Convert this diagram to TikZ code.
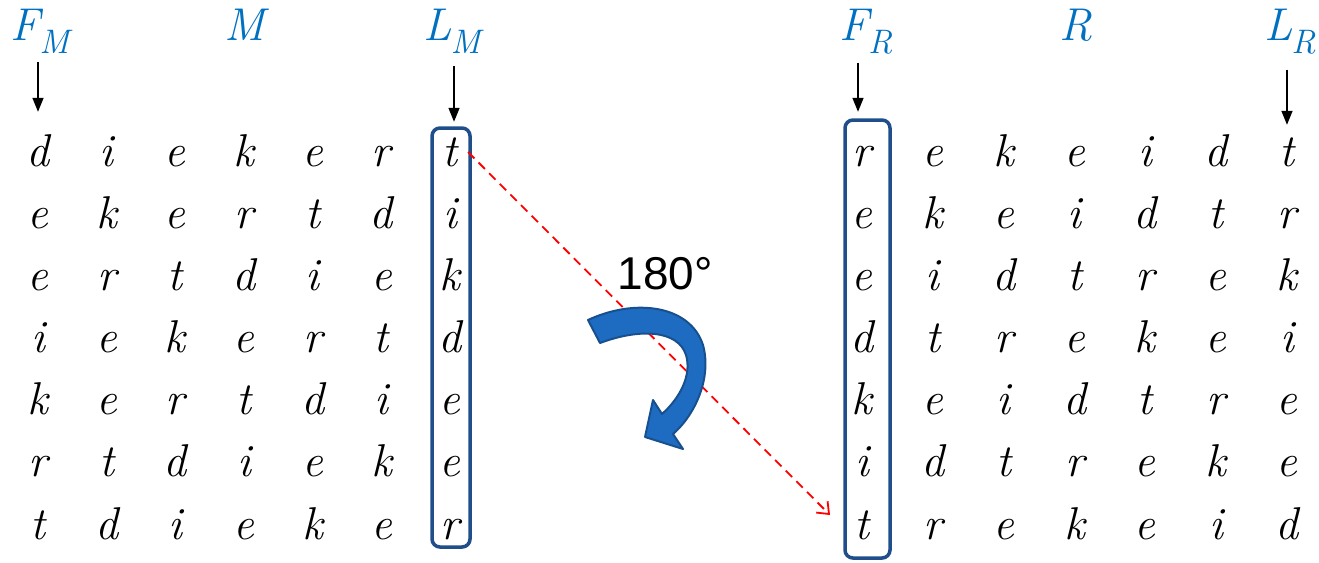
\documentclass[tikz,border=0pt]{standalone}
\usepackage{fontspec}
\newfontfamily\arialf{Liberation Sans}
\usetikzlibrary{arrows.meta,calc}
\definecolor{hdr}{HTML}{0070C0}
\definecolor{boxc}{HTML}{1F4E8A}
\definecolor{arrf}{HTML}{1D6CC2}
\definecolor{arre}{HTML}{18508F}
\newcommand{\subtxt}[2]{#1\kern-1pt\raisebox{-0.3em}{\fontsize{34}{38}\selectfont #2}}
\begin{document}
\begin{tikzpicture}[x=1pt,y=-1pt,
 cell/.style={inner sep=0pt, text height=30pt, text depth=8pt, font=\fontsize{46}{52}\selectfont\itshape},
 hdrtext/.style={text=hdr, inner sep=0pt, anchor=base, font=\fontsize{46}{52}\selectfont\itshape},
 harrow/.style={-{Triangle[width=11pt,length=14pt]}, line width=1.5pt},
 colbox/.style={draw=boxc, line width=3.5pt, rounded corners=8pt},
 redarrow/.style={draw=red, dash pattern=on 9pt off 6pt, line width=1.8pt, -{Straight Barb[length=10pt,width=16pt]}},
 turnarrow/.style={fill=arrf, draw=arre, line width=2pt, line join=round},
]
\useasboundingbox (0,0) rectangle (1319,562);
% left matrix
\foreach \row [count=\r] in {{d,i,e,k,e,r,t},{e,k,e,r,t,d,i},{e,r,t,d,i,e,k},{i,e,k,e,r,t,d},{k,e,r,t,d,i,e},{r,t,d,i,e,k,e},{t,d,i,e,k,e,r}}{
  \foreach \ch [count=\c] in \row {
    \node[cell] (l\r\c) at ({38+68.67*(\c-1)}, {155+62.17*(\r-1)}) {\ch};
  }
}
% right matrix
\foreach \row [count=\r] in {{r,e,k,e,i,d,t},{e,k,e,i,d,t,r},{e,i,d,t,r,e,k},{d,t,r,e,k,e,i},{k,e,i,d,t,r,e},{i,d,t,r,e,k,e},{t,r,e,k,e,i,d}}{
  \foreach \ch [count=\c] in \row {
    \node[cell] (r\r\c) at ({862+70.83*(\c-1)}, {155+62.17*(\r-1)}) {\ch};
  }
}
% headers
\node[hdrtext] (FM) at (40,40) {\subtxt{F}{M}};
\node[hdrtext] (M) at (245,40) {M};
\node[hdrtext] (LM) at (452,40) {\subtxt{L}{M}};
\node[hdrtext] (FR) at (866,40) {\subtxt{F}{R}};
\node[hdrtext] (R) at (1076,40) {R};
\node[hdrtext] (LR) at (1290,40) {\subtxt{L}{R}};
% header arrows
\draw[harrow, shorten <=8pt, shorten >=24pt] (FM.south -| l11) -- (l11.north);
\draw[harrow, shorten <=12pt, shorten >=14pt] ([xshift=4pt]LM.south -| l17) -- ([xshift=4pt]l17.north);
\draw[harrow, shorten <=8pt, shorten >=24pt] ([xshift=-4pt]FR.south -| r11) -- ([xshift=-4pt]r11.north);
\draw[harrow, shorten <=15pt, shorten >=11pt] (LR.south -| r17) -- (r17.north);
% boxes
\draw[colbox] ($(l17.center)+(-18,-27)$) rectangle ($(l77.center)+(20,19)$);
\draw[colbox] ($(r11.center)+(-17,-35)$) rectangle ($(r71.center)+(28,30)$);
% red dashed arrow
\coordinate (ra) at ($(l17.center)+(18,-3)$);
\coordinate (rb) at ($(r71.center)+(-32,-13)$);
\draw[redarrow] (ra) -- (rb);
% 180 label
\node[inner sep=0pt, font=\arialf\fontsize{46}{52}\selectfont] (deg) at (665,274) {180°};
% turning arrow
\draw[turnarrow] (588,320) .. controls (635,298) and (690,305) .. (703,345)
  .. controls (712,378) and (695,415) .. (673,434) -- (683,449) -- (645,437) -- (653,400) -- (662,414)
  .. controls (680,398) and (692,375) .. (686,355) .. controls (678,330) and (640,328) .. (600,343) -- cycle;
\end{tikzpicture}
\end{document}
